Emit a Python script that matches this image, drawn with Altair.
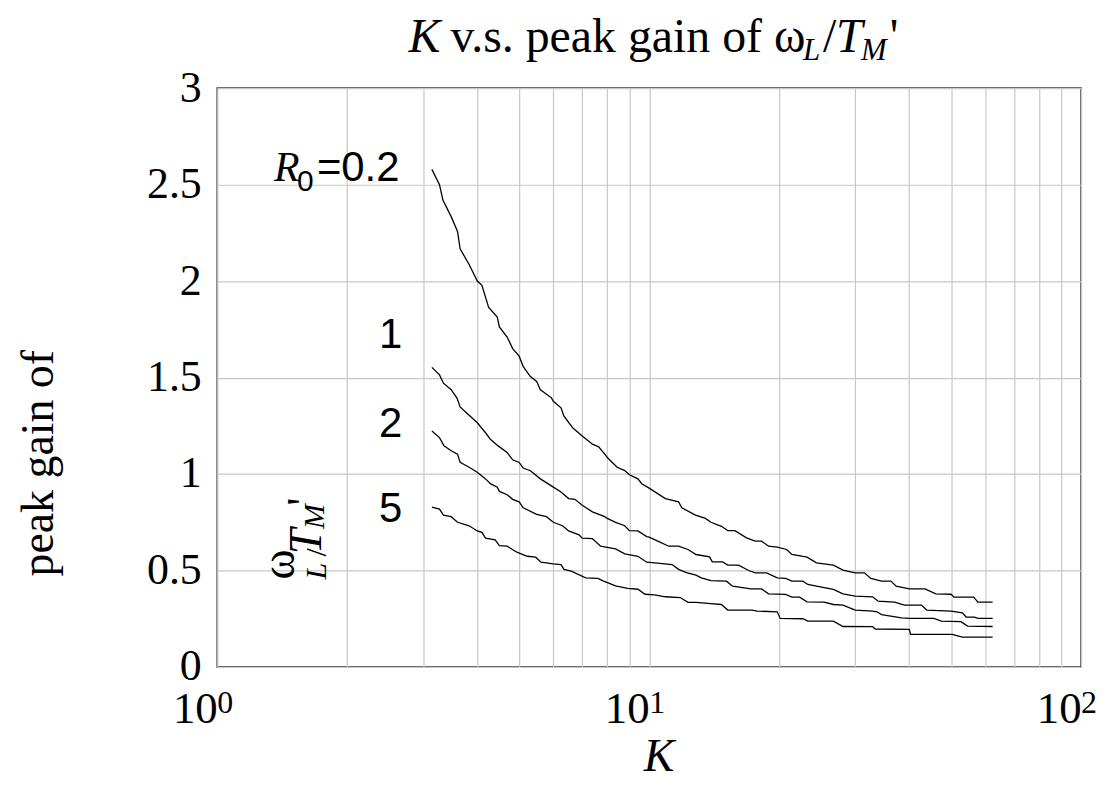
import altair as alt
import pandas as pd

# ---------------- data ----------------
K_R02 = [3.14, 3.27, 3.33, 3.48, 3.60, 3.65, 3.83, 4.0, 4.1, 4.25, 4.45, 4.5, 4.69, 4.83, 5.0,
         5.11, 5.31, 5.49, 5.6, 5.94, 6.0, 6.25, 6.35, 6.65, 7.0, 7.39, 7.64, 7.89, 8.0, 8.43,
         8.78, 9.0, 9.42, 9.61, 10.0, 10.9, 11.7, 11.9, 12.8, 13.5, 13.9, 14.7, 15.2, 15.8, 16.8,
         17.6, 18.2, 18.9, 19.8, 20.8, 21.4, 23.2, 24.4, 26.7, 28.1, 30.0, 31.5, 32.6, 34.5, 36.3,
         37.3, 40.0, 43.5, 46.1, 50.0, 50.8, 56.4, 57.7, 62.4]
V_R02 = [2.579, 2.50, 2.42, 2.334, 2.257, 2.167, 2.086, 2.0, 1.978, 1.864, 1.813, 1.762, 1.71, 1.65, 1.611,
         1.557, 1.505, 1.48, 1.437, 1.395, 1.377, 1.343, 1.30, 1.24, 1.197, 1.155, 1.141, 1.103, 1.086, 1.035,
         1.018, 0.996, 0.975, 0.95, 0.927, 0.873, 0.856, 0.825, 0.787, 0.77, 0.75, 0.729, 0.707, 0.707, 0.669,
         0.652, 0.652, 0.626, 0.621, 0.609, 0.583, 0.569, 0.54, 0.528, 0.502, 0.488, 0.488, 0.459, 0.445, 0.445,
         0.419, 0.405, 0.405, 0.379, 0.377, 0.362, 0.362, 0.336, 0.336]

K_R1 = [3.14, 3.27, 3.34, 3.48, 3.59, 3.65, 3.83, 4.0, 4.18, 4.29, 4.47, 4.69, 4.83, 5.0, 5.11,
        5.31, 5.6, 6.0, 6.25, 6.51, 6.73, 7.0, 7.39, 7.89, 8.0, 8.36, 8.78, 9.0, 9.42, 9.87,
        10.0, 10.5, 11.1, 11.7, 12.3, 12.84, 13.8, 14.0, 14.8, 15.2, 16.1, 17.0, 17.6, 18.7, 19.8,
        20.7, 21.4, 22.7, 23.3, 24.4, 26.7, 28.1, 30.0, 32.9, 33.9, 37.0, 39.0, 42.7, 43.9, 50.0,
        53.1, 54.2, 56.6, 57.7, 62.4]
V_R1 = [1.553, 1.514, 1.471, 1.437, 1.394, 1.348, 1.305, 1.266, 1.214, 1.18, 1.146, 1.112, 1.074, 1.06, 1.031,
        1.017, 0.975, 0.932, 0.907, 0.873, 0.869, 0.838, 0.804, 0.779, 0.77, 0.75, 0.732, 0.707, 0.705, 0.676,
        0.673, 0.651, 0.626, 0.626, 0.609, 0.583, 0.571, 0.545, 0.545, 0.528, 0.528, 0.5, 0.488, 0.488, 0.462,
        0.459, 0.445, 0.445, 0.428, 0.419, 0.402, 0.379, 0.367, 0.364, 0.341, 0.336, 0.321, 0.321, 0.295, 0.29,
        0.281, 0.259, 0.259, 0.252, 0.252]

K_R2 = [3.14, 3.27, 3.35, 3.48, 3.60, 3.65, 3.83, 4.0, 4.18, 4.29, 4.45, 4.5, 4.69, 4.83, 5.0,
        5.11, 5.49, 5.78, 6.0, 6.3, 6.51, 6.88, 7.0, 7.39, 7.72, 8.36, 8.78, 9.42, 9.87, 10.3,
        11.3, 11.7, 12.2, 12.84, 13.2, 13.9, 15.1, 15.6, 17.2, 18.2, 18.9, 20.7, 21.4, 22.3, 23.2,
        25.4, 26.7, 28.1, 30.0, 32.9, 33.7, 34.5, 38.4, 40.0, 45.6, 47.5, 52.7, 54.6, 62.4]
V_R2 = [1.223, 1.189, 1.146, 1.121, 1.103, 1.061, 1.035, 1.009, 0.975, 0.95, 0.932, 0.91, 0.893, 0.869, 0.856,
        0.825, 0.791, 0.779, 0.75, 0.732, 0.705, 0.685, 0.668, 0.665, 0.626, 0.612, 0.586, 0.574, 0.543, 0.54,
        0.531, 0.506, 0.489, 0.476, 0.462, 0.448, 0.445, 0.419, 0.405, 0.405, 0.379, 0.376, 0.362, 0.362, 0.338,
        0.336, 0.324, 0.321, 0.295, 0.29, 0.286, 0.272, 0.255, 0.252, 0.252, 0.238, 0.235, 0.212, 0.21]

K_R5 = [3.14, 3.27, 3.34, 3.48, 3.60, 3.83, 4.0, 4.1, 4.18, 4.4, 4.5, 4.69, 4.94, 5.22, 5.46,
        5.62, 6.0, 6.25, 6.35, 6.6, 7.13, 7.61, 7.82, 8.36, 8.92, 9.42, 9.78, 10.3, 10.9, 11.8,
        12.3, 12.84, 13.9, 14.7, 15.2, 17.3, 17.8, 19.8, 20.1, 22.7, 23.3, 26.7, 28.1, 32.9, 33.4,
        40.0, 40.3, 50.3, 53.1, 62.4]
V_R5 = [0.828, 0.818, 0.787, 0.779, 0.75, 0.732, 0.705, 0.698, 0.668, 0.659, 0.629, 0.626, 0.595, 0.574, 0.569,
        0.543, 0.535, 0.531, 0.506, 0.497, 0.462, 0.459, 0.446, 0.42, 0.408, 0.403, 0.377, 0.374, 0.364, 0.36,
        0.335, 0.335, 0.328, 0.324, 0.295, 0.295, 0.29, 0.286, 0.252, 0.25, 0.238, 0.238, 0.21, 0.209, 0.197,
        0.195, 0.169, 0.169, 0.155, 0.155]

SERIES = [("0.2", K_R02, V_R02), ("1", K_R1, V_R1), ("2", K_R2, V_R2), ("5", K_R5, V_R5)]

X_GRID = [1, 2, 3, 4, 5, 6, 7, 8, 9, 10, 20, 30, 40, 50, 60, 70, 80, 90, 100]
Y_GRID = [0, 0.5, 1, 1.5, 2, 2.5, 3]
X_EXP_TEXT = ["0", "1", "2"]
X_EXP_K = [1, 10, 100]

# title pieces
TITLE_ITALIC = ["K", "T"]
TITLE_ITALIC_K = [2.773, 27.07]
TITLE_ROMAN = ["v.s. peak gain of ω", "/", "'"]
TITLE_ROMAN_K = [3.466, 25.26, 36.07]
TITLE_SUB = ["L", "M"]
TITLE_SUB_K = [22.72, 30.92]

# curve labels
CURVE_LABELS = ["1", "2", "5"]
CURVE_LABEL_K = [2.52, 2.52, 2.52]
CURVE_LABEL_V = [1.652, 1.193, 0.749]

# rotated part of the y title
ROT_BIG_ROMAN = ["ω", "'"]
ROT_BIG_ROMAN_K = [1.505, 1.719]
ROT_BIG_ROMAN_V = [0.532, 0.857]
ROT_SMALL_ROMAN = ["/"]
ROT_SMALL_ROMAN_K = [1.784]
ROT_SMALL_ROMAN_V = [0.594]
ROT_BIG_ITALIC = ["T"]
ROT_BIG_ITALIC_K = [1.738]
ROT_BIG_ITALIC_V = [0.650]
ROT_SMALL_ITALIC = ["L", "M"]
ROT_SMALL_ITALIC_K = [1.784, 1.766]
ROT_SMALL_ITALIC_V = [0.496, 0.780]

SERIF = "Liberation Serif"
SANS = "Liberation Sans"

rows = []
for name, ks, vs in SERIES:
    assert len(ks) == len(vs)
    for i, (k, v) in enumerate(zip(ks, vs)):
        rows.append({"series": name, "K": k, "v": v, "i": i})
df = pd.DataFrame(rows)

xscale = alt.Scale(type="log", domain=[1, 100])
yscale = alt.Scale(domain=[0, 3])

xaxis = alt.Axis(values=X_GRID, labelExpr="(datum.value == 1 || datum.value == 10 || datum.value == 100) ? '10' : ''",
                 labelAlign="right", labelBaseline="alphabetic", labelPadding=56, ticks=False,
                 labelFont=SERIF, labelFontSize=45, labelColor="black", labelOverlap=False, labelFlush=False,
                 labelBound=False,
                 grid=True, gridColor="#c8c8c8", gridWidth=1.2, domain=False,
                 title="K", titleFont=SERIF, titleFontSize=46, titleFontStyle="italic", titleFontWeight="normal",
                 titleColor="black", titleX=443, titleY=104, titleBaseline="alphabetic", titleAlign="center")
yaxis = alt.Axis(values=Y_GRID, format="~g", ticks=False, labelPadding=16,
                 labelFont=SERIF, labelFontSize=44, labelColor="black", labelOverlap=False, labelFlush=False,
                 labelBound=False, labelBaseline="middle",
                 grid=True, gridColor="#c8c8c8", gridWidth=1.2, domain=False,
                 title="peak gain of", titleFont=SERIF, titleFontSize=46, titleFontWeight="normal",
                 titleColor="black", titleAngle=270, titleX=-165, titleY=376, titleAlign="center",
                 titleBaseline="alphabetic")

lines = alt.Chart(df).mark_line(color="black", strokeWidth=1.3).encode(
    x=alt.X("K:Q", scale=xscale, axis=xaxis),
    y=alt.Y("v:Q", scale=yscale, axis=yaxis),
    detail="series:N",
    order="i:Q",
)


def text_layer(texts, ks, vs, font, size, style="normal", align="left", angle=0):
    d = pd.DataFrame({"K": ks, "v": vs, "t": texts})
    return alt.Chart(d).mark_text(font=font, fontSize=size, fontStyle=style, align=align,
                                  baseline="alphabetic", angle=angle, color="black").encode(
        x=alt.X("K:Q", scale=xscale, axis=xaxis),
        y=alt.Y("v:Q", scale=yscale, axis=yaxis),
        text="t:N",
    )


layers = [lines]
# title
layers.append(text_layer(TITLE_ITALIC, TITLE_ITALIC_K, [3.186] * 2, SERIF, 48, "italic"))
layers.append(text_layer(TITLE_ROMAN, TITLE_ROMAN_K, [3.186] * 3, SERIF, 48))
layers.append(text_layer(TITLE_SUB, TITLE_SUB_K, [3.145] * 2, SERIF, 31, "italic"))
# x exponents
layers.append(text_layer(X_EXP_TEXT, X_EXP_K, [-0.2375] * 3, SERIF, 32))
# R0 = 0.2 label
layers.append(text_layer(["R"], [1.354], [2.519], SERIF, 42, "italic"))
layers.append(text_layer(["0"], [1.529], [2.468], SANS, 30))
layers.append(text_layer(["=0.2"], [1.701], [2.519], SANS, 42))
layers.append(text_layer(CURVE_LABELS, CURVE_LABEL_K, CURVE_LABEL_V, SANS, 42, align="center"))
# rotated omega_L/T_M'
layers.append(text_layer(ROT_BIG_ROMAN, ROT_BIG_ROMAN_K, ROT_BIG_ROMAN_V, SERIF, 46, align="center", angle=270))
layers.append(text_layer(ROT_SMALL_ROMAN, ROT_SMALL_ROMAN_K, ROT_SMALL_ROMAN_V, SERIF, 30, align="center", angle=270))
layers.append(text_layer(ROT_BIG_ITALIC, ROT_BIG_ITALIC_K, ROT_BIG_ITALIC_V, SERIF, 46, "italic", align="center", angle=270))
layers.append(text_layer(ROT_SMALL_ITALIC, ROT_SMALL_ITALIC_K, ROT_SMALL_ITALIC_V, SERIF, 30, "italic", align="center", angle=270))

chart = alt.layer(*layers).properties(
    width=867,
    height=581,
    padding={"left": 210, "top": 79, "right": 25, "bottom": 114},
    autosize=alt.AutoSizeParams(type="none"),
    background="white",
).configure_view(stroke="#3c3c3c", strokeWidth=1.6)

chart.save("out.html", embed_options={"renderer": "svg", "actions": False})
